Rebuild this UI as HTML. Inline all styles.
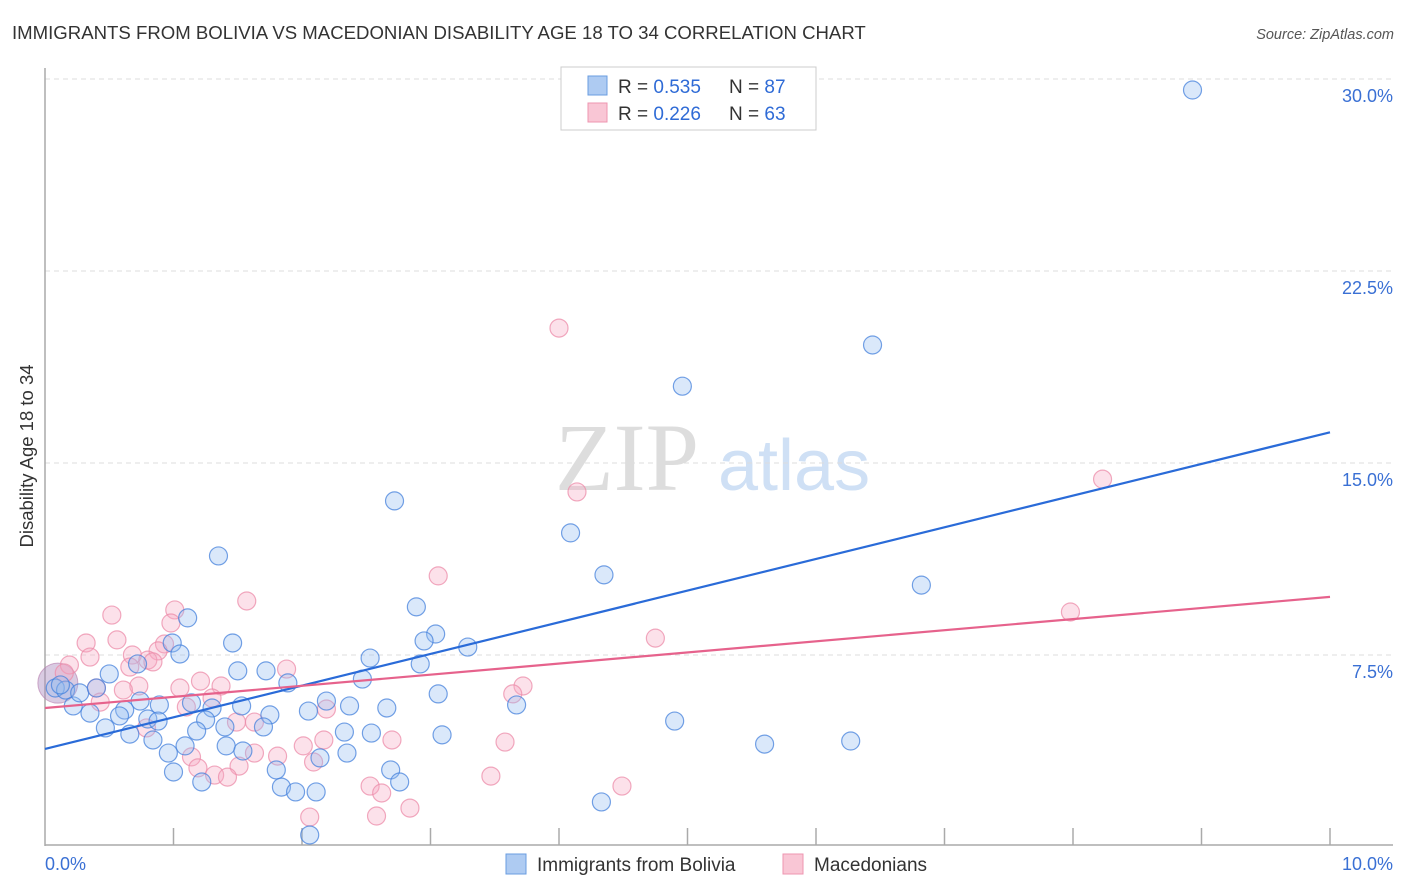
<!DOCTYPE html>
<html><head><meta charset="utf-8"><style>
body{margin:0;background:#fff;font-family:"Liberation Sans",sans-serif}
svg{display:block}
</style></head><body>
<svg id="chart" width="1406" height="892">
<text x="12" y="39" font-size="18.6" fill="#333">IMMIGRANTS FROM BOLIVIA VS MACEDONIAN DISABILITY AGE 18 TO 34 CORRELATION CHART</text>
<text x="1394" y="39" font-size="14.5" fill="#555" font-style="italic" text-anchor="end">Source: ZipAtlas.com</text>
<g><text x="555" y="490" font-family="Liberation Serif,serif" font-size="96" fill="#ddd">ZIP</text><text x="718" y="490" font-size="72" fill="#cfe0f5">atlas</text></g>
<g id="grid"></g><g id="axes"></g><g id="pts"></g><g id="lines"></g>
<text transform="translate(33,456) rotate(-90)" font-size="18.5" fill="#333" text-anchor="middle">Disability Age 18 to 34</text>
<g>
<rect x="561" y="67" width="255" height="63" fill="#fff" stroke="#ccc"/>
<rect x="588" y="76" width="19" height="19" fill="#aecbf2" stroke="#6a9de0"/>
<rect x="588" y="103" width="19" height="19" fill="#f9c6d5" stroke="#ee95b0"/>
<text x="618" y="93" font-size="19" fill="#333">R = <tspan fill="#2f6bd6">0.535</tspan></text>
<text x="729" y="93" font-size="19" fill="#333">N = <tspan fill="#2f6bd6">87</tspan></text>
<text x="618" y="120" font-size="19" fill="#333">R = <tspan fill="#2f6bd6">0.226</tspan></text>
<text x="729" y="120" font-size="19" fill="#333">N = <tspan fill="#2f6bd6">63</tspan></text>
</g>
<g>
<rect x="506" y="854" width="20" height="20" fill="#aecbf2" stroke="#6a9de0"/>
<text x="537" y="871" font-size="19" fill="#333">Immigrants from Bolivia</text>
<rect x="783" y="854" width="20" height="20" fill="#f9c6d5" stroke="#ee95b0"/>
<text x="814" y="871" font-size="19" fill="#333">Macedonians</text>
</g>
</svg>
<script>
const yTicks=[7.5,15,22.5,30];
const yTickLabels=["7.5%","15.0%","22.5%","30.0%"];
const xTickLabels=["0.0%","10.0%"];
const blueX=[8.93,6.44,4.96,2.72,4.09,4.35,6.82,1.35,2.89,3.04,2.95,3.29,1.11,1.46,0.99,1.05,2.92,2.53,1.72,1.50,0.50,0.72,2.47,1.89,3.06,3.67,2.66,2.37,2.19,2.05,1.75,1.53,1.30,1.14,0.89,0.74,0.62,0.58,0.35,0.22,0.08,0.16,0.27,0.40,0.12,0.80,0.88,0.47,0.66,1.25,1.40,1.70,2.33,2.54,3.09,4.90,1.18,0.84,1.09,1.41,1.54,0.96,2.35,2.14,5.60,6.27,1.00,1.80,2.69,1.22,1.84,2.76,1.95,2.11,4.33,2.06];
const blueY=[29.57,19.61,18.0,13.52,12.27,10.63,10.23,11.37,9.38,8.32,8.05,7.81,8.95,7.97,7.97,7.54,7.15,7.38,6.88,6.88,6.76,7.15,6.56,6.41,5.98,5.55,5.43,5.51,5.70,5.31,5.16,5.51,5.43,5.63,5.55,5.70,5.35,5.12,5.23,5.51,6.21,6.13,6.02,6.21,6.33,5.0,4.92,4.65,4.41,4.96,4.69,4.69,4.49,4.45,4.38,4.92,4.53,4.18,3.95,3.95,3.75,3.67,3.67,3.48,4.02,4.14,2.93,3.01,3.01,2.54,2.34,2.54,2.15,2.15,1.76,0.47];
const pinkX=[4.0,8.23,4.14,3.06,7.98,1.57,0.52,1.01,0.98,4.75,0.32,0.56,0.93,0.88,0.68,0.35,0.66,0.80,0.84,0.19,1.88,0.15,1.21,1.37,1.05,0.73,0.61,0.40,3.72,3.64,1.30,0.43,1.10,2.19,1.49,1.63,0.79,2.17,2.70,3.58,2.01,1.63,1.81,1.14,2.09,1.19,1.51,1.32,1.42,3.47,2.53,2.62,4.49,2.84,2.58,2.06];
const pinkY=[20.27,14.37,13.87,10.59,9.18,9.61,9.06,9.26,8.75,8.16,7.97,8.09,7.93,7.66,7.5,7.42,7.03,7.30,7.23,7.11,6.95,6.80,6.48,6.29,6.21,6.29,6.13,6.21,6.29,5.98,5.82,5.66,5.47,5.39,4.88,4.88,4.65,4.18,4.18,4.10,3.95,3.67,3.55,3.52,3.32,3.09,3.16,2.81,2.73,2.77,2.38,2.11,2.38,1.52,1.21,1.17];
const blueTrend=[3.83,16.2];
const pinkTrend=[5.43,9.77];
const NS="http://www.w3.org/2000/svg";
const X=v=>45+v*128.5, Y=v=>847-v*25.6;
function mk(t,a,p){const e=document.createElementNS(NS,t);for(const k in a)e.setAttribute(k,a[k]);p.appendChild(e);return e;}
const grid=document.getElementById('grid'),axes=document.getElementById('axes'),pts=document.getElementById('pts'),lines=document.getElementById('lines');
yTicks.forEach((t,i)=>{
 const l=mk('line',{x1:45,x2:1393,y1:Y(t),y2:Y(t),stroke:'#ddd','stroke-dasharray':'5,4'},grid);
 
 
 const tx=mk('text',{x:1393,y:Y(t)+23,'font-size':18,fill:'#3a70d4','text-anchor':'end'},axes);
 tx.textContent=yTickLabels[i];
 
 
});
const ax1=mk('line',{x1:45,x2:45,y1:68,y2:846,stroke:'#aaa','stroke-width':1.5},axes);


const ax2=mk('line',{x1:45,x2:1393,y1:845,y2:845,stroke:'#aaa','stroke-width':1.5},axes);


for(let i=1;i<=10;i++){
 const tk=mk('line',{x1:X(i),x2:X(i),y1:828,y2:845,stroke:'#aaa','stroke-width':1.5},axes);
 
 
}
[[0,'start',45],[10,'end',1393]].forEach((d,i)=>{
 const tx=mk('text',{x:d[2],y:870,'font-size':18,fill:'#3a70d4','text-anchor':d[1]},axes);
 tx.textContent=xTickLabels[i];
 
 
});
const big=mk('circle',{cx:X(0.1),cy:Y(6.4),r:20,fill:'rgba(170,140,190,0.45)',stroke:'rgba(180,120,170,0.6)'},pts);


pinkX.forEach((x,i)=>{
 const c=mk('circle',{cx:X(x),cy:Y(pinkY[i]),r:9,fill:'rgba(246,170,195,0.35)',stroke:'rgba(236,140,170,0.75)','stroke-width':1.2},pts);
 
 
});
blueX.forEach((x,i)=>{
 const c=mk('circle',{cx:X(x),cy:Y(blueY[i]),r:9,fill:'rgba(150,190,240,0.35)',stroke:'rgba(70,130,220,0.75)','stroke-width':1.2},pts);
 
 
});
const bl=mk('line',{x1:X(0),y1:Y(blueTrend[0]),x2:X(10),y2:Y(blueTrend[1]),stroke:'#2a6bd8','stroke-width':2.2},lines);


const pl=mk('line',{x1:X(0),y1:Y(pinkTrend[0]),x2:X(10),y2:Y(pinkTrend[1]),stroke:'#e6628c','stroke-width':2.2},lines);


</script>
</body></html>
